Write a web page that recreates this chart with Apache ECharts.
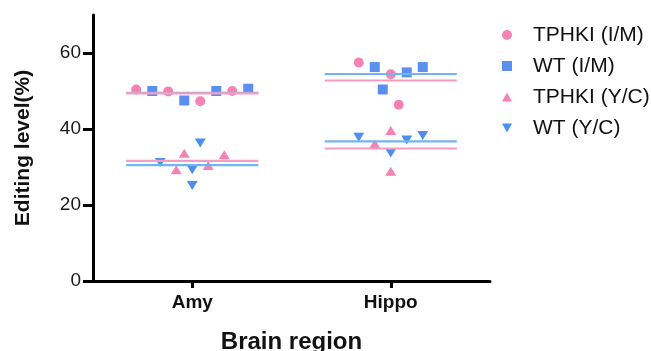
<!DOCTYPE html>
<html>
<head>
<meta charset="utf-8">
<script src="https://cdn.jsdelivr.net/npm/echarts@6/dist/echarts.min.js"></script>
<style>
  html, body { margin: 0; padding: 0; background: #fff; }
  #chart { width: 651px; height: 351px; }
</style>
</head>
<body>
<div id="chart"></div>
<script>
// Brain regions on the x axis
const regions = ['Amy', 'Hippo'];
const yTicks = [0, 20, 40, 60];

// Editing level (%) per animal; "slots" give each dot's horizontal dodge column
const tphkiIM_slots = [[-7, -3, 1, 5], [-4, 0, 1]];
const tphkiIM_vals  = [[50.4, 49.9, 47.3, 50.0], [57.5, 54.4, 46.4]];

const wtIM_slots = [[-5, -1, 3, 7], [-2, -1, 2, 4]];
const wtIM_vals  = [[50.0, 47.5, 50.0, 50.6], [56.3, 50.4, 54.9, 56.3]];

const tphkiYC_slots = [[-2, -1, 2, 4], [-2, 0, 0]];
const tphkiYC_vals  = [[29.3, 33.6, 30.4, 33.2], [36.1, 39.6, 28.9]];

const wtYC_slots = [[-4, 0, 0, 1], [-4, 0, 2, 4]];
const wtYC_vals  = [[31.2, 29.3, 25.1, 36.3], [37.8, 33.7, 37.1, 38.3]];

const PINK = '#f483b3';
const BLUE = '#5b8fef';
const BLUE_TRI = '#4b90f0';
const PINK_LINE = '#f59cc1';
const BLUE_LINE = '#72b4f2';

const DODGE = 0.0403;      // width of one dodge column in axis units
const HALF_MEAN = 0.333;   // half length of the mean bar
const FONT = '"Liberation Sans", Arial, Helvetica, sans-serif';
const upTri = 'path://M5,0 L10,9 L0,9 Z';
const downTri = 'path://M0,0 L10,0 L5,9 Z';

function points(slots, vals) {
  const out = [];
  regions.forEach((r, i) => {
    slots[i].forEach((s, j) => out.push([i + 1 + s * DODGE, vals[i][j]]));
  });
  return out;
}

function mean(a) { return a.reduce((s, v) => s + v, 0) / a.length; }

function meanBars(vals, color, id) {
  return regions.map((r, i) => {
    const m = mean(vals[i]);
    return {
      id: id + i,
      type: 'line',
      data: [[i + 1 - HALF_MEAN, m], [i + 1 + HALF_MEAN, m]],
      symbol: 'none',
      silent: true,
      z: 5,
      lineStyle: { color: color, width: 2.2 },
      animation: false
    };
  });
}

const scatter = (name, slots, vals, color, symbol, size) => ({
  name: name,
  type: 'scatter',
  data: points(slots, vals),
  symbol: symbol,
  symbolSize: size,
  itemStyle: { color: color, opacity: 1 },
  z: 3,
  animation: false
});

const chart = echarts.init(document.getElementById('chart'), null, { renderer: 'canvas' });

chart.setOption({
  backgroundColor: '#ffffff',
  animation: false,
  grid: { left: 93, right: 161, top: 15, bottom: 70, containLabel: false, outerBoundsMode: 'none' },
  legend: {
    orient: 'vertical',
    left: 497,
    top: 19,
    itemWidth: 10,
    itemHeight: 10,
    itemGap: 9,
    data: [
      { name: 'TPHKI (I/M)', icon: 'circle' },
      { name: 'WT (I/M)', icon: 'rect' },
      { name: 'TPHKI (Y/C)', icon: upTri },
      { name: 'WT (Y/C)', icon: downTri }
    ],
    textStyle: { fontFamily: FONT, fontSize: 21, lineHeight: 22, color: '#111', padding: [0, 0, 0, 16] }
  },
  xAxis: {
    type: 'value',
    min: 0.5,
    max: 2.5,
    name: 'Brain region',
    nameLocation: 'middle',
    nameGap: 49,
    nameTextStyle: { fontFamily: FONT, fontSize: 24, fontWeight: 'bold', color: '#111' },
    axisLine: { show: true, lineStyle: { color: '#000', width: 3 } },
    axisTick: { show: true, length: 7, lineStyle: { color: '#000', width: 3 }, customValues: [1, 2] },
    axisLabel: {
      customValues: [1, 2],
      margin: 12,
      fontFamily: FONT, fontSize: 19, fontWeight: 'bold', color: '#111',
      formatter: v => regions[Math.round(v) - 1] || ''
    },
    splitLine: { show: false }
  },
  yAxis: {
    type: 'value',
    min: 0,
    max: 70,
    name: 'Editing level(%)',
    nameLocation: 'middle',
    nameGap: 59,
    nameTextStyle: { fontFamily: FONT, fontSize: 21, fontWeight: 'bold', color: '#111' },
    axisLine: { show: true, lineStyle: { color: '#000', width: 3 } },
    axisTick: { show: true, length: 10, lineStyle: { color: '#000', width: 3 }, customValues: yTicks },
    axisLabel: {
      customValues: yTicks,
      margin: 12,
      fontFamily: FONT, fontSize: 19, color: '#1a1a1a'
    },
    splitLine: { show: false }
  },
  series: [
    scatter('TPHKI (I/M)', tphkiIM_slots, tphkiIM_vals, PINK, 'circle', 10),
    scatter('WT (I/M)', wtIM_slots, wtIM_vals, BLUE, 'rect', 10),
    scatter('TPHKI (Y/C)', tphkiYC_slots, tphkiYC_vals, PINK, upTri, [11, 9]),
    scatter('WT (Y/C)', wtYC_slots, wtYC_vals, BLUE_TRI, downTri, [11, 9]),
    ...meanBars(wtIM_vals, BLUE_LINE, 'wtIMmean'),
    ...meanBars(tphkiIM_vals, PINK_LINE, 'tphkiIMmean'),
    ...meanBars(wtYC_vals, BLUE_LINE, 'wtYCmean'),
    ...meanBars(tphkiYC_vals, PINK_LINE, 'tphkiYCmean')
  ]
});
</script>
</body>
</html>
